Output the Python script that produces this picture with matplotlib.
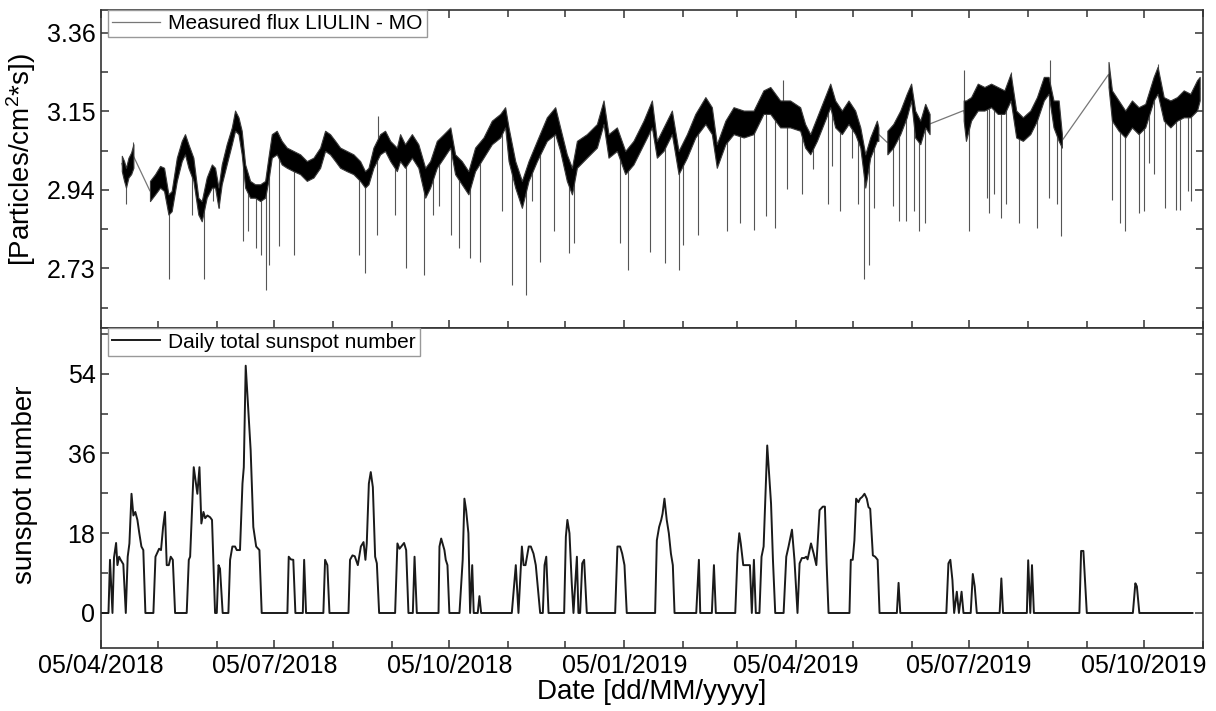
import numpy as np
import matplotlib
matplotlib.use('Agg')
import matplotlib.pyplot as plt
import matplotlib.dates as mdates
from matplotlib.ticker import MultipleLocator

plt.rcParams['font.family'] = ['Liberation Sans', 'DejaVu Sans']
plt.rcParams['mathtext.default'] = 'regular'

# days counted from 05/04/2018
start_date = '2018-04-05'
end_date = '2019-11-05'

# LIULIN-MO flux: upper / lower edge of the noisy band
flux_day = [10.9, 12.1, 13.1, 14.4, 15.8, 17.0,
            25.7, 28.4, 31.0, 33.1, 35.4, 37.1, 39.8, 42.4, 44.1, 45.9, 48.5, 51.1, 52.9, 55.5,
            58.2, 59.9, 61.7, 63.4, 66.0, 68.7, 70.4, 72.2, 73.9, 75.7, 78.3, 80.9, 83.6, 86.2,
            87.9, 89.7, 92.3, 94.9, 97.6, 101.1, 104.6, 108.1, 111.6, 115.1, 117.7, 120.3, 123.0,
            125.6, 129.1, 132.6, 136.1, 138.7, 140.5, 143.1, 146.6, 149.2, 151.9, 155.4, 157.1,
            159.7, 163.3, 166.7, 170.3, 172.9, 176.4, 180.0, 183.5, 186.0, 189.5, 193.0, 196.5,
            200.9, 205.3, 209.7, 212.3, 214.1, 217.6, 221.1, 224.6, 229.0, 234.2, 238.6, 241.2,
            244.7, 247.4, 250.0, 255.2, 260.5, 264.0, 266.6, 271.0, 275.4, 279.7, 285.0, 289.4,
            292.0, 295.5, 299.9, 303.4, 307.8, 312.2, 317.5, 320.9, 323.5, 328.0, 332.3, 337.6,
            342.8, 348.0, 351.6, 356.8, 362.0, 367.3, 369.9, 372.6, 376.1, 379.6, 383.1, 385.7,
            389.2, 392.7, 396.2, 398.9, 401.5, 404.1, 407.6, 408.4,
            413.1, 416.2, 419.9, 423.3, 425.6, 427.7, 430.4, 433.0, 435.3,
            453.2, 454.4, 457.1, 460.6, 464.1, 467.6, 471.1, 474.6, 477.9, 480.8, 484.3, 488.2,
            491.7, 495.3, 497.8, 500.4, 503.1, 504.8,
            529.3, 531.1, 534.6, 538.1, 541.6, 545.1, 548.6, 553.0, 555.1, 558.3, 561.8, 565.3,
            568.8, 572.3, 575.8, 577.2]
flux_hi = [3.031, 3.017, 2.999, 3.026, 3.040, 3.062,
           2.964, 2.982, 3.004, 2.999, 2.928, 2.937, 3.026, 3.071, 3.089, 3.062, 3.026, 2.919, 2.910, 2.973,
           3.008, 2.999, 2.946, 3.008, 3.062, 3.107, 3.152, 3.134, 3.098, 3.008, 2.964, 2.955, 2.955, 2.964,
           3.026, 3.089, 3.098, 3.071, 3.053, 3.044, 3.035, 3.017, 3.026, 3.053, 3.098, 3.089, 3.071,
           3.053, 3.044, 3.035, 3.017, 2.990, 2.999, 3.053, 3.089, 3.098, 3.071, 3.053, 3.089,
           3.062, 3.089, 3.062, 2.999, 3.017, 3.071, 3.089, 3.107, 3.035, 3.017, 2.990, 3.053,
           3.080, 3.125, 3.143, 3.161, 3.107, 3.017, 2.964, 3.017, 3.071, 3.134, 3.161, 3.107,
           3.035, 2.999, 3.071, 3.089, 3.116, 3.179, 3.089, 3.107, 3.044, 3.071, 3.125, 3.179,
           3.071, 3.107, 3.152, 3.044, 3.089, 3.143, 3.188, 3.161, 3.062, 3.125, 3.161, 3.152,
           3.152, 3.206, 3.215, 3.179, 3.179, 3.161, 3.116, 3.089, 3.134, 3.179, 3.224, 3.179,
           3.152, 3.179, 3.152, 3.107, 3.035, 3.080, 3.125, 3.107,
           3.098, 3.116, 3.152, 3.197, 3.224, 3.152, 3.125, 3.170, 3.143,
           3.179, 3.179, 3.188, 3.224, 3.215, 3.224, 3.215, 3.206, 3.251, 3.152, 3.134, 3.152,
           3.188, 3.242, 3.242, 3.179, 3.179, 3.089,
           3.282, 3.206, 3.179, 3.152, 3.179, 3.161, 3.170, 3.242, 3.269, 3.188, 3.179, 3.188,
           3.206, 3.197, 3.233, 3.242]
flux_lo = [2.990, 2.964, 2.946, 2.973, 2.982, 2.999,
           2.910, 2.928, 2.946, 2.937, 2.874, 2.883, 2.964, 3.017, 3.035, 2.999, 2.964, 2.874, 2.856, 2.919,
           2.946, 2.946, 2.892, 2.955, 3.008, 3.062, 3.098, 3.089, 3.035, 2.946, 2.919, 2.919, 2.910, 2.919,
           2.964, 3.026, 3.035, 3.008, 2.999, 2.990, 2.982, 2.964, 2.973, 2.999, 3.044, 3.035, 3.017,
           2.999, 2.990, 2.982, 2.964, 2.946, 2.955, 2.999, 3.035, 3.044, 3.017, 2.990, 3.017,
           2.999, 3.026, 2.999, 2.919, 2.946, 2.999, 3.026, 3.053, 2.982, 2.955, 2.928, 2.990,
           3.026, 3.062, 3.080, 3.107, 3.017, 2.946, 2.892, 2.964, 3.017, 3.071, 3.089, 3.044,
           2.964, 2.928, 2.999, 3.026, 3.053, 3.116, 3.026, 3.044, 2.982, 3.008, 3.062, 3.107,
           3.026, 3.044, 3.089, 2.982, 3.026, 3.080, 3.116, 3.089, 2.999, 3.062, 3.089, 3.080,
           3.089, 3.143, 3.143, 3.107, 3.107, 3.098, 3.053, 3.035, 3.071, 3.116, 3.161, 3.107,
           3.089, 3.116, 3.089, 3.053, 2.946, 3.026, 3.071, 3.071,
           3.035, 3.053, 3.089, 3.134, 3.179, 3.080, 3.062, 3.107, 3.089,
           3.125, 3.071, 3.125, 3.152, 3.152, 3.161, 3.143, 3.143, 3.179, 3.080, 3.071, 3.089,
           3.125, 3.179, 3.197, 3.107, 3.071, 3.053,
           3.215, 3.125, 3.098, 3.080, 3.107, 3.089, 3.107, 3.179, 3.197, 3.125, 3.107, 3.125,
           3.134, 3.134, 3.152, 3.179]
# days that fall inside the data gaps
flux_breaks = [21, 411, 444, 517]

# single-sample spikes (dips and a few upward jumps)
spike_day = [13.1, 17.0, 35.9, 47.6, 54.1, 59.0, 62.2, 74.4, 77.4, 81.5, 84.1, 86.5, 88.5, 93.7,
             101.4, 135.6, 138.7, 145.2, 145.6, 154.5, 160.3, 169.9, 174.6, 177.3, 183.9, 188.3,
             193.6, 199.2, 210.7, 215.8, 223.3, 226.3, 230.7, 238.0, 245.6, 248.6, 272.4, 277.1,
             288.5, 296.5, 303.4, 306.0, 313.5, 328.8, 335.8, 342.8, 349.3, 354.2, 358.2, 360.3,
             368.2, 374.3, 381.7, 384.0, 388.0, 394.5, 397.9, 400.9, 403.7, 406.2, 416.0, 419.3,
             423.0, 426.9, 429.8, 433.0, 453.2, 455.9, 465.5, 466.4, 469.1, 472.6, 475.5, 478.3,
             482.4, 491.7, 497.8, 498.3, 502.2, 504.3, 531.1, 535.1, 538.1, 545.1, 548.1, 550.7,
             553.0, 555.1, 558.8, 564.9, 567.1, 570.9, 572.8]
spike_val = [2.901, 3.067, 2.703, 2.874, 2.703, 2.910, 2.892, 2.802, 2.829, 2.784, 2.766, 2.672, 2.739, 2.789,
             2.766, 2.766, 2.717, 2.820, 3.138, 2.874, 2.730, 2.712, 2.874, 2.896, 2.820, 2.784,
             2.757, 2.748, 2.883, 2.685, 2.659, 2.910, 2.748, 2.829, 2.771, 2.798, 2.798, 2.726,
             2.775, 2.744, 2.726, 2.793, 2.820, 2.829, 2.851, 2.834, 2.869, 2.838, 3.233, 2.941,
             2.928, 2.995, 2.901, 3.004, 2.883, 3.026, 2.901, 2.703, 2.739, 2.892, 2.896, 2.856,
             2.856, 2.883, 2.829, 2.851, 3.260, 2.829, 2.919, 2.878, 2.928, 2.865, 2.901, 3.255,
             2.851, 2.838, 2.919, 3.286, 2.901, 2.816, 2.914, 2.851, 2.829, 2.878, 2.883, 3.013,
             2.982, 3.277, 2.892, 2.887, 2.887, 2.937, 2.910]

# daily total sunspot number (vertices of the drawn line)
ssn_day = [0.0, 3.9, 4.7, 6.0, 6.8, 7.9, 8.6, 9.5, 10.3, 11.7, 13.0, 14.0, 14.9, 16.0, 17.0, 18.0,
           19.1, 20.1, 21.2, 22.2, 23.3, 27.5, 28.6, 30.5, 31.5, 32.6, 33.6, 34.5, 35.6, 36.6, 37.7,
           38.9, 45.0, 46.1, 46.8, 47.6, 48.7, 50.6, 51.7, 52.7, 53.8, 54.7, 55.9, 57.3, 58.3, 59.9,
           60.8, 61.7, 62.5, 63.9, 66.9, 67.8, 69.0, 70.4, 71.3, 73.0, 74.3, 75.0, 76.0, 78.6, 80.0,
           81.5, 83.2, 84.4, 97.9, 98.6, 99.7, 101.0, 102.1, 106.0, 106.7, 107.7, 116.8, 117.7,
           118.9, 120.0, 130.0, 130.8, 132.1, 133.3, 134.9, 136.5, 137.9, 138.9, 139.6, 140.7,
           141.7, 142.8, 144.0, 144.9, 146.1, 154.5, 155.7, 156.8, 159.2, 160.3, 161.5, 163.8,
           164.7, 165.9, 177.3, 177.8, 178.7, 180.4, 181.1, 182.0, 183.0, 188.3, 190.0, 190.9,
           191.8, 193.0, 193.9, 195.0, 195.8, 197.9, 198.8, 199.7, 215.8, 217.9, 219.3, 221.1,
           222.0, 223.0, 224.7, 225.8, 227.2, 228.4, 230.7, 232.1, 233.0, 233.9, 235.1, 243.3,
           244.2, 245.0, 246.1, 247.3, 248.2, 250.0, 250.8, 251.7, 252.8, 253.8, 255.2, 270.1,
           271.3, 272.7, 273.8, 275.0, 276.2, 291.1, 292.0, 293.2, 294.3, 295.0, 296.0, 297.2,
           298.3, 299.4, 300.4, 301.3, 312.7, 314.1, 314.8, 320.9, 322.0, 323.0, 333.2, 334.4,
           335.3, 336.1, 337.4, 340.9, 341.9, 343.0, 344.0, 345.9, 347.0, 348.1, 350.0, 352.0,
           353.0, 354.2, 358.6, 360.0, 361.2, 363.0, 364.3, 365.9, 367.0, 368.2, 369.5, 370.5,
           371.2, 373.0, 374.4, 375.8, 377.5, 379.2, 380.3, 381.2, 382.2, 393.2, 393.9, 394.9,
           395.8, 396.7, 397.9, 398.8, 399.9, 401.1, 402.3, 403.2, 404.1, 405.5, 406.7, 408.0,
           409.0, 418.1, 419.0, 419.9, 444.1, 445.2, 446.2, 447.3, 448.2, 449.6, 450.7, 452.1,
           453.1, 456.9, 458.0, 459.0, 460.1, 472.1, 473.0, 473.9, 486.4, 487.1, 488.2, 489.1,
           490.1, 514.0, 514.9, 516.1, 517.9, 542.1, 543.4, 544.2, 545.5, 573.4]
ssn_val = [0, 0, 12, 0, 12.5, 15.8, 10.8, 12.7, 12, 11, 0, 12.7, 15.7, 26.9, 22, 22.8,
           21, 18, 15, 14.2, 0, 0, 12.7, 14.5, 14.2, 19.4, 22.8, 10.8, 10.8, 12.7, 12,
           0, 0, 12, 12.7, 21, 32.9, 26.9, 32.9, 20.2, 22.8, 21.4, 22, 21.6, 21, 0,
           0, 10.8, 10, 0, 0, 12, 15, 15, 14.2, 14.2, 29.2, 32.9, 55.8, 36.7, 19.4,
           15, 14.2, 0, 0, 12.7, 12.1, 12, 0, 0, 12, 0, 0, 12,
           10.8, 0, 0, 12, 13, 12.8, 10.8, 15, 16, 12, 15.7, 29.2,
           31.8, 28.4, 12.7, 11.2, 0, 0, 15.7, 14.5, 15.8, 14.2, 0, 0,
           12.7, 0, 0, 15, 16.8, 14.2, 12, 10.8, 0, 0, 12, 25.8,
           23.2, 18, 0, 10.8, 0, 0, 3.8, 0, 0, 10.8, 0, 15,
           10.8, 10.8, 15, 15, 13.4, 10.8, 0, 0, 10.8, 12.7, 0, 0,
           17.2, 21, 18, 6.7, 0, 12.7, 0, 0, 11.2, 12, 0, 0,
           15, 15, 13.4, 10.8, 0, 0, 16.4, 19.4, 21, 22.4, 25.8, 21,
           18, 13.4, 10.8, 0, 0, 12, 0, 0, 10.8, 0, 0, 13.4,
           18, 15.7, 10.8, 10.8, 0, 12, 0, 0, 12.7, 15, 37.8, 24.7,
           12, 0, 0, 12.7, 15, 18.8, 12, 0, 11.2, 12.4, 12.4, 12.7,
           12.1, 15.7, 13.4, 10.8, 23.2, 24, 24, 11.2, 0, 0, 12, 12,
           16.4, 25.8, 25, 25.8, 26.2, 26.9, 25.8, 23.9, 23.5, 13, 12.7, 12,
           0, 0, 6.8, 0, 0, 11.2, 12, 7.4, 0, 4.8, 0, 4.8,
           0, 0, 8.8, 6, 0, 0, 7.8, 0, 0, 11.9, 0, 10.8,
           0, 0, 14, 14, 0, 0, 6.7, 6, 0, 0]

flux_ticks = [2.73, 2.94, 3.15, 3.36]
ssn_ticks = [0, 18, 36, 54]

t0 = mdates.date2num(np.datetime64(start_date))
t1 = mdates.date2num(np.datetime64(end_date))

fig = plt.figure(figsize=(12.16, 7.11), dpi=100)
ax1 = fig.add_axes([0.0831, 0.5380, 0.9063, 0.4479])
ax2 = fig.add_axes([0.0831, 0.0886, 0.9063, 0.4494], sharex=ax1)

# --- top panel: flux
fday = np.array(flux_day)
hi = np.array(flux_hi)
lo = np.array(flux_lo)
mid = (hi + lo) / 2
ax1.plot(t0 + fday, mid, color='#777777', lw=0.9, zorder=1, label='Measured flux LIULIN - MO')
sday = np.array(spike_day)
ax1.vlines(t0 + sday, np.interp(sday, fday, mid), spike_val, color='#555555', lw=0.8, zorder=1)
seg = np.digitize(fday, flux_breaks)
for k in np.unique(seg):
    m = seg == k
    ax1.fill_between(t0 + fday[m], lo[m], hi[m], facecolor='black', edgecolor='#3a3a3a',
                     lw=0.8, zorder=2)

ax1.set_ylim(2.5694, 3.4208)
ax1.set_yticks(flux_ticks)
ax1.yaxis.set_minor_locator(MultipleLocator(0.105))
ax1.set_ylabel('[Particles/cm$^{2}$*s])', fontsize=20)
ax1.yaxis.set_label_coords(-0.057, 0.53)
ax1.tick_params(labelbottom=False)
ax1.legend(loc='upper left', bbox_to_anchor=(0.006, 1.0), borderaxespad=0, fontsize=15,
           fancybox=False, edgecolor='#999999', framealpha=1, borderpad=0.2,
           handlelength=2.3, handletextpad=0.4)

# --- bottom panel: sunspots
ax2.plot(t0 + np.array(ssn_day), ssn_val, color='#1a1a1a', lw=1.4, label='Daily total sunspot number')
ax2.set_ylim(-7.9, 64.2)
ax2.set_yticks(ssn_ticks)
ax2.yaxis.set_minor_locator(MultipleLocator(9))
ax2.set_ylabel('sunspot number', fontsize=20)
ax2.yaxis.set_label_coords(-0.057, 0.51)
ax2.set_xlabel('Date [dd/MM/yyyy]', fontsize=20, labelpad=1)
ax2.legend(loc='upper left', bbox_to_anchor=(0.006, 1.0), borderaxespad=0, fontsize=15,
           fancybox=False, edgecolor='#999999', framealpha=1, borderpad=0.2,
           handlelength=2.3, handletextpad=0.4)

ax2.set_xlim(t0, t1)
ax2.xaxis.set_major_locator(mdates.MonthLocator(bymonth=[1, 4, 7, 10], bymonthday=5))
ax2.xaxis.set_minor_locator(mdates.MonthLocator(bymonthday=5))
ax2.xaxis.set_major_formatter(mdates.DateFormatter('%d/%m/%Y'))

for ax, top in ((ax1, True), (ax2, False)):
    ax.tick_params(which='both', direction='in', top=top, right=True, width=1.1,
                   labelsize=18, colors='#333333', labelcolor='black', pad=4)
    ax.tick_params(which='major', length=6)
    ax.tick_params(which='minor', length=5)
    for sp in ax.spines.values():
        sp.set_linewidth(1.2)
        sp.set_color('#333333')

fig.savefig('out.png', dpi=100)
